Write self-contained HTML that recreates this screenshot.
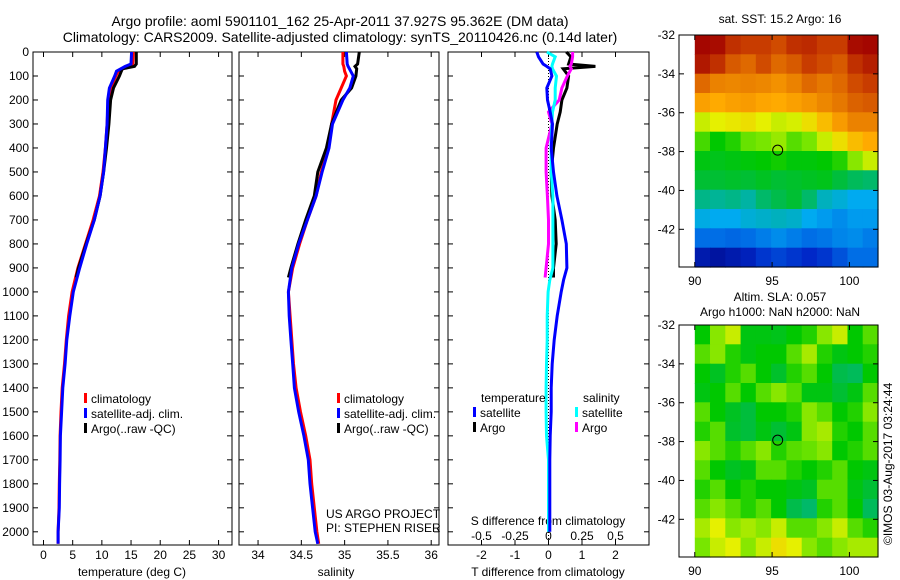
<!DOCTYPE html>
<html><head><meta charset="utf-8"><style>
body{margin:0;background:#fff;}
svg{display:block;font-family:"Liberation Sans",sans-serif;}
text{fill:#000;}
</style></head><body>
<svg id="c" width="900" height="580" viewBox="0 0 900 580">
<text x="340" y="26" font-size="14" text-anchor="middle">Argo profile: aoml 5901101_162 25-Apr-2011 37.927S 95.362E (DM data)</text>
<text x="340" y="42" font-size="14" text-anchor="middle">Climatology: CARS2009. Satellite-adjusted climatology: synTS_20110426.nc (0.14d later)</text>
<text x="780" y="23" font-size="12" text-anchor="middle">sat. SST: 15.2 Argo: 16</text>
<text x="780" y="301" font-size="12" text-anchor="middle">Altim. SLA: 0.057</text>
<text x="780" y="316" font-size="12" text-anchor="middle">Argo h1000: NaN h2000: NaN</text>
<text transform="translate(892,545) rotate(-90)" font-size="12">©IMOS 03-Aug-2017 03:24:44</text>
<text x="326" y="518" font-size="12">US ARGO PROJECT</text>
<text x="326" y="532" font-size="12">PI: STEPHEN RISER</text>
<g id="g"></g>
</svg>
<script>
// ---------- data ----------
const depthTicks=[0,100,200,300,400,500,600,700,800,900,1000,1100,1200,1300,1400,1500,1600,1700,1800,1900,2000];
const tempTicks=[0,5,10,15,20,25,30];
const salTicks=[34,34.5,35,35.5,36];
const tdiffTicks=[-2,-1,0,1,2];
const sdiffTicks=[-0.5,-0.25,0,0.25,0.5];
const latTicks=[-32,-34,-36,-38,-40,-42];
const lonTicks=[90,95,100];

const climDepth=[0,50,60,80,100,150,200,300,400,500,600,700,800,900,1000,1100,1200,1300,1400,1500,1600,1700,1800,1900,2000,2050];
const tClim=[15.4,15.3,14.5,12.8,12.4,11.5,11.1,10.9,10.6,10.2,9.6,8.5,7.2,5.9,4.9,4.3,3.9,3.6,3.2,3.0,2.85,2.8,2.7,2.65,2.5,2.5];
const tSat=[15.1,15.0,14.0,12.5,12.2,11.3,11.0,10.9,10.6,10.3,9.7,8.7,7.4,6.2,5.1,4.5,4.0,3.7,3.3,3.1,2.9,2.85,2.75,2.7,2.5,2.5];
const argoDepth=[0,50,60,70,100,150,200,300,400,500,600,700,800,900,940];
const tArgo=[15.9,15.9,15.6,13.5,13.0,12.0,11.5,11.2,10.8,10.3,9.7,8.7,7.3,6.0,5.6];
const sClim=[34.98,34.98,34.99,35.0,35.02,34.96,34.90,34.85,34.81,34.73,34.67,34.57,34.48,34.40,34.35,34.37,34.39,34.41,34.44,34.49,34.55,34.60,34.62,34.65,34.68,34.70];
const sSat=[35.02,35.03,35.04,35.07,35.10,35.06,34.98,34.86,34.82,34.74,34.67,34.57,34.47,34.39,34.35,34.36,34.38,34.40,34.42,34.47,34.53,34.58,34.60,34.63,34.66,34.69];
const sArgo=[35.17,35.15,35.12,35.14,35.13,35.08,34.96,34.85,34.79,34.69,34.65,34.55,34.46,34.38,34.35];
const diffDepth=[0,20,50,60,70,100,150,200,250,300,350,400,500,600,700,800,900,950,1000,1100,1200,1300,1400,1500,1600,1700,1800,1900,2000];
const dTsat=[-0.35,-0.3,-0.16,-0.05,0.05,0.1,-0.05,-0.03,0.05,0.12,0.1,0.08,0.15,0.25,0.4,0.53,0.55,0.45,0.38,0.26,0.17,0.11,0.08,0.08,0.05,0.04,0.04,0.04,0.04];
const dSsat=[-0.012,0.05,0.03,0.025,0.03,0.06,0.05,0.05,0.03,0.025,0.02,0.02,0.02,0.033,0.033,0.033,0.033,0.01,-0.003,-0.01,-0.01,-0.015,-0.018,-0.018,-0.015,0,0,0,0];
const dArgoDepth=[0,20,50,60,70,100,150,200,250,300,400,500,600,700,800,900,940];
const dTargo=[0.53,0.67,0.6,1.4,0.44,0.6,0.55,0.4,0.35,0.26,0.15,0.08,0.1,0.2,0.23,0.15,0.15];
const dSargo=[0.18,0.18,0.17,0.16,0.17,0.14,0.1,0.08,0.0,0.025,-0.018,-0.018,-0.008,0,0,-0.018,-0.025];

// SST map grid (colormap 0..1), rows lat -32..-43, cols lon 90..101
const sstGrid=[
[0.99,0.98,0.92,0.90,0.90,0.88,0.92,0.93,0.90,0.90,0.98,0.99],
[0.96,0.92,0.86,0.84,0.88,0.84,0.86,0.90,0.88,0.86,0.92,0.95],
[0.84,0.80,0.79,0.80,0.79,0.77,0.80,0.84,0.82,0.84,0.88,0.90],
[0.74,0.72,0.74,0.75,0.73,0.72,0.74,0.76,0.79,0.82,0.85,0.86],
[0.62,0.64,0.65,0.66,0.64,0.62,0.63,0.66,0.70,0.75,0.80,0.80],
[0.54,0.50,0.52,0.56,0.57,0.59,0.55,0.57,0.62,0.66,0.70,0.72],
[0.48,0.47,0.48,0.49,0.50,0.51,0.49,0.49,0.50,0.52,0.58,0.62],
[0.44,0.44,0.45,0.44,0.46,0.44,0.45,0.46,0.47,0.43,0.41,0.40],
[0.38,0.37,0.38,0.36,0.40,0.42,0.44,0.40,0.34,0.32,0.30,0.30],
[0.31,0.30,0.30,0.32,0.33,0.34,0.33,0.30,0.28,0.26,0.28,0.28],
[0.22,0.22,0.21,0.22,0.24,0.26,0.24,0.22,0.23,0.25,0.26,0.24],
[0.08,0.06,0.08,0.10,0.14,0.16,0.14,0.12,0.14,0.18,0.22,0.22],
];
// SLA map grid (colormap 0..1)
const slaGrid=[
[0.50,0.58,0.62,0.48,0.48,0.47,0.50,0.52,0.58,0.62,0.50,0.55],
[0.55,0.58,0.52,0.48,0.50,0.50,0.55,0.60,0.52,0.48,0.50,0.52],
[0.50,0.46,0.52,0.55,0.50,0.45,0.52,0.55,0.50,0.42,0.41,0.50],
[0.48,0.50,0.55,0.50,0.55,0.58,0.55,0.48,0.48,0.44,0.48,0.55],
[0.55,0.50,0.46,0.43,0.50,0.50,0.52,0.58,0.55,0.50,0.52,0.58],
[0.52,0.55,0.45,0.43,0.48,0.44,0.48,0.58,0.60,0.52,0.50,0.55],
[0.58,0.55,0.52,0.55,0.58,0.52,0.55,0.56,0.58,0.50,0.52,0.55],
[0.55,0.50,0.46,0.48,0.55,0.55,0.52,0.50,0.52,0.55,0.50,0.48],
[0.52,0.55,0.50,0.52,0.50,0.50,0.48,0.46,0.55,0.55,0.48,0.44],
[0.55,0.58,0.55,0.52,0.55,0.50,0.42,0.40,0.52,0.55,0.50,0.41],
[0.60,0.64,0.58,0.60,0.58,0.62,0.55,0.55,0.58,0.62,0.55,0.52],
[0.57,0.62,0.64,0.58,0.62,0.66,0.64,0.58,0.55,0.58,0.60,0.60],
];
const argoLon=95.362, argoLat=-37.927;

// ---------- drawing ----------
const NS='http://www.w3.org/2000/svg';
const G=document.getElementById('g');
function el(t,a,p){const e=document.createElementNS(NS,t);for(const k in a)e.setAttribute(k,a[k]);(p||G).appendChild(e);return e;}
function lin(d0,d1,r0,r1){return v=>r0+(v-d0)*(r1-r0)/(d1-d0);}
const PT=52,PB=545;
const yD=lin(0,2055,PT,PB);
const x1=lin(-1.8,32.3,33,232);
const x2=lin(33.78,36.09,239,439);
const x3=lin(-3,3,448,649);
const x3s=lin(-0.75,0.75,448,649);

function frame(L,R,T,B,name){
  const r=el('rect',{x:L,y:T,width:R-L,height:B-T,fill:'none',stroke:'#000','stroke-width':1});
  
  
}
function ytick(L,R,y,lbl){
  el('line',{x1:L,x2:L+5,y1:y,y2:y,stroke:'#000'});
  el('line',{x1:R-5,x2:R,y1:y,y2:y,stroke:'#000'});
  if(lbl!==null){const t=el('text',{x:L-4,y:y+4,'font-size':12,'text-anchor':'end'});t.textContent=lbl;
    
    }
}
function xtick(x,T,B,lbl,ly){
  el('line',{x1:x,x2:x,y1:B-5,y2:B,stroke:'#000'});
  el('line',{x1:x,x2:x,y1:T,y2:T+5,stroke:'#000'});
  if(lbl!==null){const t=el('text',{x:x,y:ly,'font-size':12,'text-anchor':'middle'});t.textContent=lbl;
    
    }
}
function line(xs,ds,xf,col,name){
  const pts=xs.map((v,i)=>xf(v).toFixed(1)+','+yD(ds[i]).toFixed(1)).join(' ');
  const p=el('polyline',{points:pts,fill:'none',stroke:col,'stroke-width':3,'stroke-linejoin':'miter'});
  
  
}
function label(x,y,s,name,anchor){const t=el('text',{x:x,y:y,'font-size':12,'text-anchor':anchor||'start'});t.textContent=s;
  
  }
function legend(x,y,col,s,name){
  el('rect',{x:x,y:y-10,width:3,height:10,fill:col});
  label(x+7,y,s,name);
}

// panel 1
frame(33,232,PT,PB,'temperature-axes');
depthTicks.forEach(d=>ytick(33,232,yD(d),String(d)));
tempTicks.forEach(v=>xtick(x1(v),PT,PB,String(v),559));
label(132,576,'temperature (deg C)','temperature-axis-title','middle');
line(tClim,climDepth,x1,'#f00','temp-climatology-line');
line(tArgo,argoDepth,x1,'#000','temp-argo-line');
line(tSat,climDepth,x1,'#00f','temp-satellite-line');
legend(84,403,'#f00','climatology','legend-climatology');
legend(84,418,'#00f','satellite-adj. clim.','legend-satellite');
legend(84,433,'#000','Argo(..raw -QC)','legend-argo');

// panel 2
frame(239,439,PT,PB,'salinity-axes');
depthTicks.forEach(d=>ytick(239,439,yD(d),null));
salTicks.forEach(v=>xtick(x2(v),PT,PB,String(v),559));
label(336,576,'salinity','salinity-axis-title','middle');
line(sClim,climDepth,x2,'#f00','sal-climatology-line');
line(sArgo,argoDepth,x2,'#000','sal-argo-line');
line(sSat,climDepth,x2,'#00f','sal-satellite-line');
legend(337,403,'#f00','climatology','legend-climatology-2');
legend(337,418,'#00f','satellite-adj. clim.','legend-satellite-2');
legend(337,433,'#000','Argo(..raw -QC)','legend-argo-2');

// panel 3
frame(448,649,PT,PB,'difference-axes');
depthTicks.forEach(d=>ytick(448,649,yD(d),null));
tdiffTicks.forEach(v=>xtick(x3(v),PT,PB,String(v),559));
sdiffTicks.forEach(v=>label(x3s(v),540,String(v),'s-diff-tick-label','middle'));
label(548,525,'S difference from climatology','s-diff-axis-title','middle');
label(548,576,'T difference from climatology','t-diff-axis-title','middle');
el('line',{x1:x3(0),x2:x3(0),y1:PT,y2:PB,stroke:'#000','stroke-dasharray':'1,2'});
line(dTargo,dArgoDepth,x3,'#000','tdiff-argo-line');
line(dSargo,dArgoDepth,x3s,'#f0f','sdiff-argo-line');
line(dSsat,diffDepth,x3s,'#0ff','sdiff-satellite-line');
line(dTsat,diffDepth,x3,'#00f','tdiff-satellite-line');
label(481,402,'temperature','legend-temperature-head');
legend(473,417,'#00f','satellite','legend-t-satellite');
legend(473,432,'#000','Argo','legend-t-argo');
label(583,402,'salinity','legend-salinity-head');
legend(575,417,'#0ff','satellite','legend-s-satellite');
legend(575,432,'#f0f','Argo','legend-s-argo');

// maps
const cmapStops=[[0,0,0,120],[0.12,0,40,200],[0.22,0,110,230],[0.3,0,170,240],[0.37,0,180,150],[0.43,0,190,60],[0.5,0,200,0],[0.57,120,230,0],[0.64,230,240,0],[0.72,255,170,0],[0.82,230,120,0],[0.9,200,60,0],[1,160,0,0]];
function cmap(v){
  v=Math.max(0,Math.min(1,v));
  for(let i=1;i<cmapStops.length;i++){const a=cmapStops[i-1],b=cmapStops[i];
    if(v<=b[0]){const t=(v-a[0])/(b[0]-a[0]);
      return 'rgb('+[1,2,3].map(k=>Math.round(a[k]+t*(b[k]-a[k]))).join(',')+')';}}
  return 'rgb(160,0,0)';
}
function map(grid,T,B,name){
  const L=679,R=878;
  const xm=lin(88.98,101.85,L,R), ym=lin(-32,-43.94,T,B);
  const rows=grid.length, cols=grid[0].length;
  const dLon=(101.85-90)/cols, dLat=11.94/rows;
  grid.forEach((row,i)=>row.forEach((v,j)=>{
    const x0=xm(90+j*dLon), x1_=xm(90+(j+1)*dLon), y0=ym(-32-i*dLat), y1_=ym(-32-(i+1)*dLat);
    const r=el('rect',{x:x0.toFixed(1),y:y0.toFixed(1),width:(x1_-x0+0.6).toFixed(1),height:(y1_-y0+0.6).toFixed(1),fill:cmap(v)});
    
    
  }));
  frame(L,R,T,B,name+'-axes');
  latTicks.forEach(v=>{const y=ym(v);el('line',{x1:L,x2:L+5,y1:y,y2:y,stroke:'#000'});el('line',{x1:R-5,x2:R,y1:y,y2:y,stroke:'#000'});
    label(L-4,y+4,String(v),name+'-lat-label','end');});
  lonTicks.forEach(v=>xtick(xm(v),T,B,String(v),B+18));
  const c=el('circle',{cx:xm(argoLon),cy:ym(argoLat),r:5,fill:'none',stroke:'#000','stroke-width':1});
  
  
}
map(sstGrid,35,267,'sst-map');
map(slaGrid,325,557,'sla-map');
</script>
</body></html>
